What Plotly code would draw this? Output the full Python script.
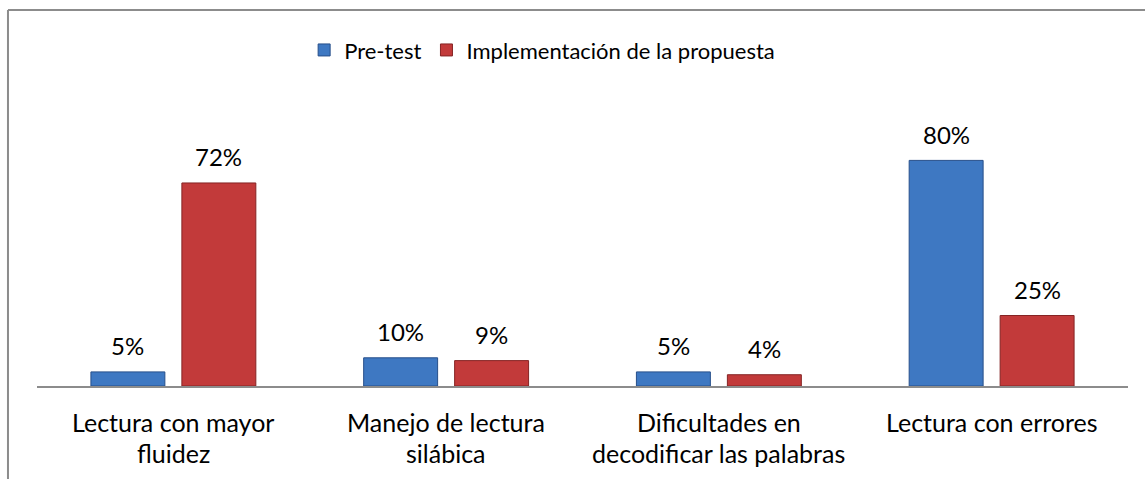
import plotly.graph_objects as go

categories = ["Lectura con mayor<br>fluidez", "Manejo de lectura<br>silábica",
              "Dificultades en<br>decodificar las palabras", "Lectura con errores"]
series_names = ["Pre-test", "Implementación de la propuesta"]
pretest = [5, 10, 5, 80]
propuesta = [72, 9, 4, 25]

FONT = "Lato"
fig = go.Figure()
fig.add_trace(go.Bar(name=series_names[0], x=categories, y=pretest,
                     marker=dict(color="#3E78C2", line=dict(color="#274F8A", width=1))))
fig.add_trace(go.Bar(name=series_names[1], x=categories, y=propuesta,
                     marker=dict(color="#C23A3A", line=dict(color="#852424", width=1))))

ann = []
for vals, shift in ((pretest, -45.5), (propuesta, 45.5)):
    for c, v in zip(categories, vals):
        ann.append(dict(x=c, y=v, xref="x", yref="y", text=f"{v}%", showarrow=False,
                        xshift=shift, yshift=26, yanchor="middle",
                        font=dict(family=FONT, size=24, color="#000")))
for c in categories:
    for i, line in enumerate(c.split("<br>")):
        ann.append(dict(x=c, y=0, xref="x", yref="paper", text=line, showarrow=False,
                        yanchor="middle", yshift=-36 - 31 * i,
                        font=dict(family=FONT, size=25, color="#000")))

fig.update_layout(
    width=1145, height=479,
    margin=dict(l=37, r=17, t=104, b=93, autoexpand=False),
    paper_bgcolor="white", plot_bgcolor="white",
    barmode="group", bargap=0.333, bargroupgap=0.187,
    font=dict(family=FONT, size=24, color="#000"),
    showlegend=True,
    legend=dict(orientation="h", x=0.463, xanchor="center", y=1.191, yanchor="middle",
                font=dict(family=FONT, size=22), itemwidth=30, traceorder="normal"),
    xaxis=dict(showticklabels=False, showline=True, linecolor="#8c8c8c", linewidth=2,
               ticks="", showgrid=False, zeroline=False),
    yaxis=dict(range=[0, 100], visible=False, showgrid=False, zeroline=False),
    annotations=ann,
    shapes=[
        dict(type="line", xref="paper", yref="paper", x0=-0.0266, x1=1.02, y0=1.333, y1=1.333,
             line=dict(color="#8c8c8c", width=2)),
        dict(type="line", xref="paper", yref="paper", x0=-0.0266, x1=-0.0266, y0=1.333, y1=-0.35,
             line=dict(color="#8c8c8c", width=2)),
    ],
)
fig.write_html("out.html", config={"displayModeBar": False},
               post_script="document.body.style.margin='0';document.body.style.padding='0';")
